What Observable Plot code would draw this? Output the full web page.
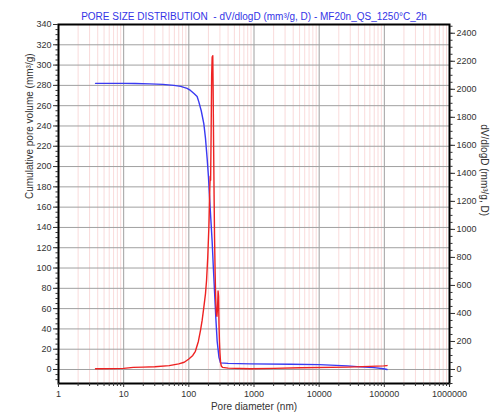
<!DOCTYPE html>
<html>
<head>
<meta charset="utf-8">
<script src="https://cdn.jsdelivr.net/npm/d3@7"></script>
<script src="https://cdn.jsdelivr.net/npm/@observablehq/plot@0.6"></script>
<style>
  html, body { margin: 0; padding: 0; background: #fff; }
</style>
</head>
<body>
<div id="chart"></div>
<script>
// Cumulative pore volume (mm³/g) vs pore diameter (nm)
const cumDiam = [3.7, 6, 10, 15, 25, 40, 59, 75, 94, 106, 120, 134, 142, 155, 170, 180, 191, 200, 210, 220, 228, 238, 248, 260, 272, 290, 306, 400, 883, 3630, 10000, 27000, 43000, 70000, 98000, 110000];
const cumVol  = [282, 282, 282, 281.8, 281.5, 281, 280, 279, 277, 275, 272, 269, 264, 255, 242, 228, 208, 190, 165, 143, 126, 100, 77, 50, 28, 12, 6.5, 6, 5.5, 5.2, 4.8, 3.6, 2.6, 1.8, 0.7, 0];

// dV/dlogD (mm³/g, D) vs pore diameter (nm)
const psdDiam = [3.7, 7, 10, 14, 20, 30, 50, 70, 85, 100, 115, 126, 140, 151, 160, 170, 180, 187, 195, 203, 208, 210, 213, 216, 220, 224, 228, 233, 236, 240, 244, 248, 253, 258, 264, 270, 276, 281, 286, 290, 295, 300, 307, 315, 330, 400, 883, 2000, 5150, 27000, 60000, 98000, 110000];
const psdVal  = [5, 6, 8, 15, 17, 20, 28, 40, 52, 75, 100, 130, 200, 280, 350, 445, 540, 635, 800, 1016, 1200, 1300, 1380, 1350, 1700, 2100, 2230, 2240, 2000, 1600, 1250, 950, 700, 520, 400, 380, 440, 560, 520, 330, 200, 120, 50, 25, 15, 10, 5, 8, 12, 17, 22, 26, 28];

const leftTicks = d3.range(0, 341, 20);
const leftMinor = d3.range(-10, 341, 5);
const rightTicks = d3.range(0, 2401, 200);
const rightMinor = d3.range(-100, 2451, 50);
const decades = [1, 10, 100, 1000, 10000, 100000, 1000000];
const minorX = [];
for (let e = 0; e < 6; e++) for (let m = 2; m <= 9; m++) minorX.push(m * Math.pow(10, e));

const title = "PORE SIZE DISTRIBUTION  - dV/dlogD (mm³/g, D) - MF20n_QS_1250°C_2h";
const xLabel = "Pore diameter (nm)";
const yLeftLabel = "Cumulative pore volume (mm³/g)";
const yRightLabel = "dV/dlogD (mm³/g, D)";

// scale factor mapping right-axis units into left-axis units
const k = 0.13807;

const cum = cumDiam.map((d, i) => ({d, v: cumVol[i]}));
const psd = psdDiam.map((d, i) => ({d, v: psdVal[i]}));

const chart = Plot.plot({
  width: 498,
  height: 415,
  marginLeft: 58,
  marginRight: 49,
  marginTop: 24,
  marginBottom: 32,
  style: {fontFamily: "Liberation Sans, Arial, sans-serif", fontSize: "9px", color: "#333", background: "#fff"},
  x: {type: "log", domain: [1, 1e6]},
  y: {domain: [-13.8, 340]},
  marks: [
    Plot.ruleX(minorX, {stroke: "#f7cccc", strokeWidth: 0.7}),
    Plot.ruleX(decades, {stroke: "#a0a0a0", strokeWidth: 1}),
    Plot.ruleY(leftTicks, {stroke: "#a0a0a0", strokeWidth: 1}),
    Plot.line(cum, {x: "d", y: "v", stroke: "#3a3af2", strokeWidth: 1.4}),
    Plot.line(psd, {x: "d", y: d => d.v * k, stroke: "#ee2222", strokeWidth: 1.4}),
    Plot.frame({stroke: "#000", strokeWidth: 2}),
    Plot.axisX({ticks: decades, tickFormat: d => String(d), tickSize: 4, tickPadding: 3, label: null, fill: "#333"}),
    Plot.axisX({ticks: minorX, tickFormat: () => "", tickSize: 3, label: null}),
    Plot.axisY({ticks: leftTicks, tickFormat: d => String(d), tickSize: 5, tickPadding: 2, label: null, fill: "#333"}),
    Plot.axisY({ticks: leftMinor, tickFormat: () => "", tickSize: 2.5, label: null}),
    Plot.axisY({anchor: "right", ticks: rightTicks.map(v => v * k), tickFormat: d => String(Math.round(d / k)), tickSize: 5, tickPadding: 2, label: null, fill: "#333"}),
    Plot.axisY({anchor: "right", ticks: rightMinor.map(v => v * k), tickFormat: () => "", tickSize: 2.5, label: null}),
    Plot.text([title], {frameAnchor: "top", dy: -12, fill: "#3434e6", fontSize: 10}),
    Plot.text([xLabel], {frameAnchor: "bottom", dy: 26, fill: "#333", fontSize: 10}),
    Plot.text([yLeftLabel], {frameAnchor: "left", dx: -29, dy: -5, rotate: -90, fill: "#333", fontSize: 10}),
    Plot.text([yRightLabel], {frameAnchor: "right", dx: 35, dy: 12, rotate: 90, fill: "#333", fontSize: 10})
  ]
});
document.getElementById("chart").appendChild(chart);
</script>
</body>
</html>
